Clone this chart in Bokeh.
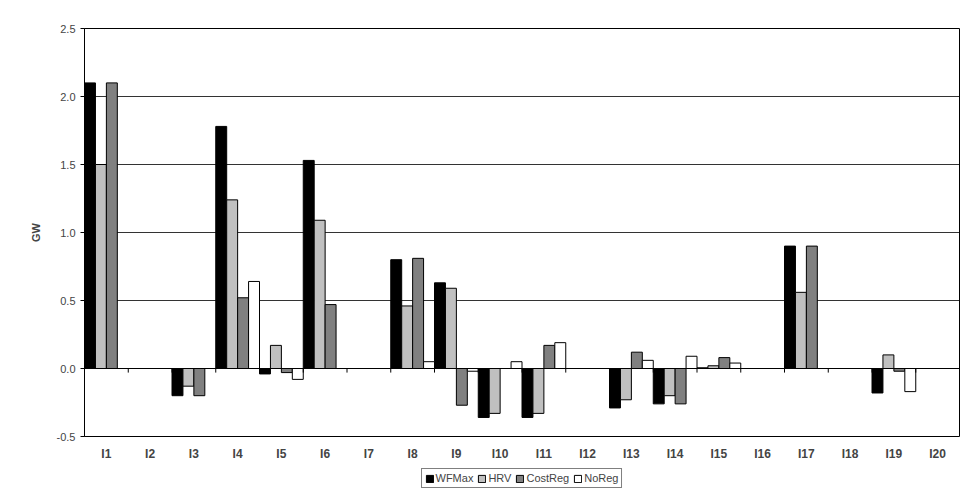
from bokeh.plotting import figure
from bokeh.layouts import column
from bokeh.models import ColumnDataSource, Span, Legend, LegendItem, FixedTicker, Range1d
from bokeh.embed import file_html
from bokeh.resources import INLINE

cats = ['I%d' % i for i in range(1, 21)]
wfmax = [2.1, 0, -0.2, 1.78, -0.04, 1.53, 0, 0.8, 0.63, -0.36, -0.36, 0, -0.29, -0.26, 0.005, 0, 0.9, 0, -0.18, 0]
hrv = [1.5, 0, -0.13, 1.24, 0.17, 1.09, 0, 0.46, 0.59, -0.33, -0.33, 0, -0.23, -0.2, 0.02, 0, 0.56, 0, 0.1, 0]
costreg = [2.1, 0, -0.2, 0.52, -0.03, 0.47, 0, 0.81, -0.27, 0, 0.17, 0, 0.12, -0.26, 0.08, 0, 0.9, 0, -0.02, 0]
noreg = [0, 0, 0, 0.64, -0.08, 0, 0, 0.05, -0.02, 0.05, 0.19, 0, 0.06, 0.09, 0.04, 0, 0, 0, -0.17, 0]
yticks = [-0.5, 0.0, 0.5, 1.0, 1.5, 2.0, 2.5]

FONT = "Liberation Sans"
xs = list(range(1, len(cats) + 1))

p = figure(width=962, height=466, output_backend="svg", toolbar_location=None,
           x_range=Range1d(0.5, 20.5), y_range=Range1d(-0.5, 2.5),
           min_border_left=84, min_border_right=3, min_border_top=28, min_border_bottom=30)
p.outline_line_color = "black"
p.xgrid.grid_line_color = None
p.ygrid.grid_line_color = "black"
p.ygrid.grid_line_alpha = 0.8

series = [(wfmax, "WFMax", "black"), (hrv, "HRV", "#c0c0c0"),
          (costreg, "CostReg", "#808080"), (noreg, "NoReg", "white")]
w = 0.25
for i, (vals, name, color) in enumerate(series):
    off = -0.375 + i * w
    src = ColumnDataSource(dict(x=[x + off for x in xs], top=vals))
    p.vbar(x="x", top="top", bottom=0, width=w, source=src,
           fill_color=color, line_color="black", line_width=1)

p.add_layout(Span(location=0, dimension="width", line_color="black", line_width=1))
bx = [x + 0.5 for x in xs[:-1]]
p.segment(x0=bx, x1=bx, y0=[0] * len(bx), y1=[-0.03] * len(bx), line_color="black")

p.xaxis.ticker = FixedTicker(ticks=xs)
p.xaxis.major_label_overrides = {x: c for x, c in zip(xs, cats)}
p.xaxis.axis_line_color = None
p.xaxis.major_tick_line_color = None
p.xaxis.minor_tick_line_color = None
p.xaxis.major_label_text_font = FONT
p.xaxis.major_label_text_font_style = "bold"
p.xaxis.major_label_text_font_size = "12px"
p.xaxis.major_label_standoff = 4

p.yaxis.ticker = FixedTicker(ticks=yticks)
p.yaxis.major_label_overrides = {t: "%.1f" % t for t in yticks}
p.yaxis.minor_tick_line_color = None
p.yaxis.major_tick_in = 0
p.yaxis.major_tick_out = 4
p.yaxis.major_label_text_font = FONT
p.yaxis.major_label_text_font_size = "11px"
p.yaxis.axis_label = "GW"
p.yaxis.axis_label_text_font = FONT
p.yaxis.axis_label_text_font_style = "bold"
p.yaxis.axis_label_text_font_size = "11px"
p.yaxis.axis_label_standoff = 12

# legend lives in its own strip under the chart
lf = figure(width=962, height=24, output_backend="svg", toolbar_location=None,
            x_range=Range1d(0, 1), y_range=Range1d(0, 1), min_border=0)
lf.axis.visible = False
lf.grid.visible = False
lf.outline_line_color = None
items = []
for vals, name, color in series:
    r = lf.vbar(x=[-50], top=[-50], bottom=-60, width=0.1, fill_color=color, line_color="black")
    items.append(LegendItem(label=name, renderers=[r]))
leg = Legend(items=items, orientation="horizontal", location="center",
             label_text_font=FONT, label_text_font_size="11px",
             glyph_width=9, glyph_height=9, spacing=4, label_standoff=2,
             padding=3, margin=0, border_line_color="black")
lf.add_layout(leg)

open("out.html", "w").write(file_html(column(p, lf, spacing=0), INLINE))
